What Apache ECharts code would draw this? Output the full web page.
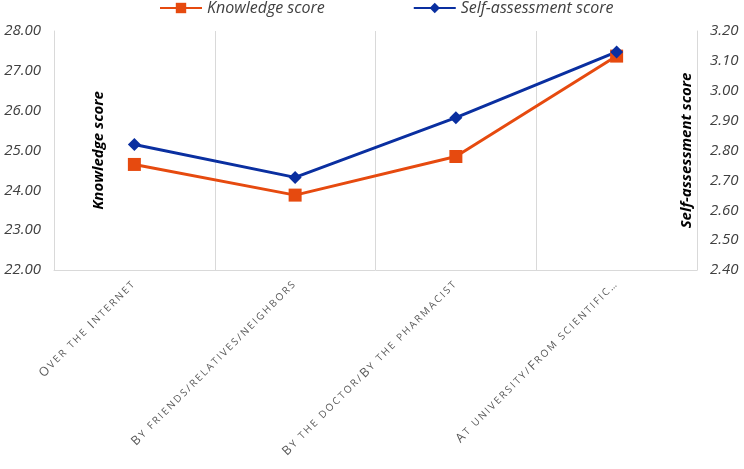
<!DOCTYPE html>
<html>
<head>
<meta charset="utf-8">
<script src="https://cdn.jsdelivr.net/npm/echarts@6/dist/echarts.min.js"></script>
<style>
  html, body { margin: 0; padding: 0; background: #fff; }
  #chart { width: 744px; height: 469px; }
</style>
</head>
<body>
<div id="chart"></div>
<script>
const categories = [
    "Over the Internet",
    "By friends/relatives/neighbors",
    "By the doctor/By the pharmacist",
    "At university/From scientific…",
];
const knowledgeScore = [24.65, 23.88, 24.85, 27.37];
const selfAssessment = [2.82, 2.71, 2.91, 3.13];

const FONT = "Open Sans";
const ORANGE = "#E64A0F";
const BLUE = "#0A2FA0";
const GREY = "#d9d9d9";

// small caps: capitals big, lower case as smaller capitals, a bit of tracking
const smallCaps = function (txt) {
    let out = "";
    for (const ch of txt) {
        if (ch >= "A" && ch <= "Z") out += "{b|" + ch + "}";
        else out += "{s|" + ch.toUpperCase() + "}";
    }
    return out;
};

const chart = echarts.init(document.getElementById("chart"));

const option = {
    backgroundColor: "#fff",
    textStyle: { fontFamily: FONT },
    legend: {
        top: -5,
        left: 154,
        itemGap: 88,
        itemWidth: 42,
        itemHeight: 13,
        textStyle: { fontFamily: FONT, fontStyle: "italic", fontSize: 16, color: "#404040" },
        data: ["Knowledge score", "Self-assessment score"],
    },
    grid: { left: 54, right: 47, top: 31, bottom: 199, outerBoundsMode: "none", containLabel: false },
    xAxis: {
        type: "category",
        data: categories,
        boundaryGap: true,
        axisLine: { lineStyle: { color: GREY, width: 1 } },
        axisTick: { show: false },
        splitLine: { show: true, lineStyle: { color: GREY, width: 1 } },
        axisLabel: {
            rotate: 45,
            interval: 0,
            margin: 12,
            color: "#595959",
            fontFamily: FONT,
            formatter: smallCaps,
            rich: {
                b: { fontSize: 12.5, fontFamily: FONT, color: "#595959", padding: [0, 2, 0, 0] },
                s: { fontSize: 10, fontFamily: FONT, color: "#595959", padding: [0, 2, 0, 0] },
            },
        },
    },
    yAxis: [
        {
            type: "value",
            min: 22,
            max: 28,
            interval: 1,
            name: "Knowledge score",
            nameLocation: "middle",
            nameRotate: 90,
            nameGap: -52,
            nameMoveOverlap: false,
            nameTextStyle: { fontFamily: FONT, fontStyle: "italic", fontWeight: "bold", fontSize: 15, color: "#000" },
            axisLine: { show: true, lineStyle: { color: GREY } },
            axisTick: { show: false },
            splitLine: { show: false },
            axisLabel: {
                formatter: function (v) { return v.toFixed(2); },
                fontStyle: "italic",
                fontSize: 15,
                color: "#404040",
                margin: 13,
            },
        },
        {
            type: "value",
            min: 2.4,
            max: 3.2,
            interval: 0.1,
            name: "Self-assessment score",
            nameLocation: "middle",
            nameRotate: 90,
            nameGap: -18,
            nameMoveOverlap: false,
            nameTextStyle: { fontFamily: FONT, fontStyle: "italic", fontWeight: "bold", fontSize: 15, color: "#000" },
            axisLine: { show: true, lineStyle: { color: GREY } },
            axisTick: { show: false },
            splitLine: { show: false },
            axisLabel: {
                formatter: function (v) { return v.toFixed(2); },
                fontStyle: "italic",
                fontSize: 15,
                color: "#404040",
                margin: 13,
            },
        },
    ],
    series: [
        {
            name: "Knowledge score",
            type: "line",
            yAxisIndex: 0,
            data: knowledgeScore,
            symbol: "rect",
            symbolSize: 13,
            color: ORANGE,
            lineStyle: { width: 3, color: ORANGE },
            itemStyle: { color: ORANGE },
            animation: false,
        },
        {
            name: "Self-assessment score",
            type: "line",
            yAxisIndex: 1,
            data: selfAssessment,
            symbol: "diamond",
            symbolSize: 13,
            color: BLUE,
            lineStyle: { width: 3, color: BLUE },
            itemStyle: { color: BLUE },
            animation: false,
        },
    ],
};

chart.setOption(option);
</script>
</body>
</html>
